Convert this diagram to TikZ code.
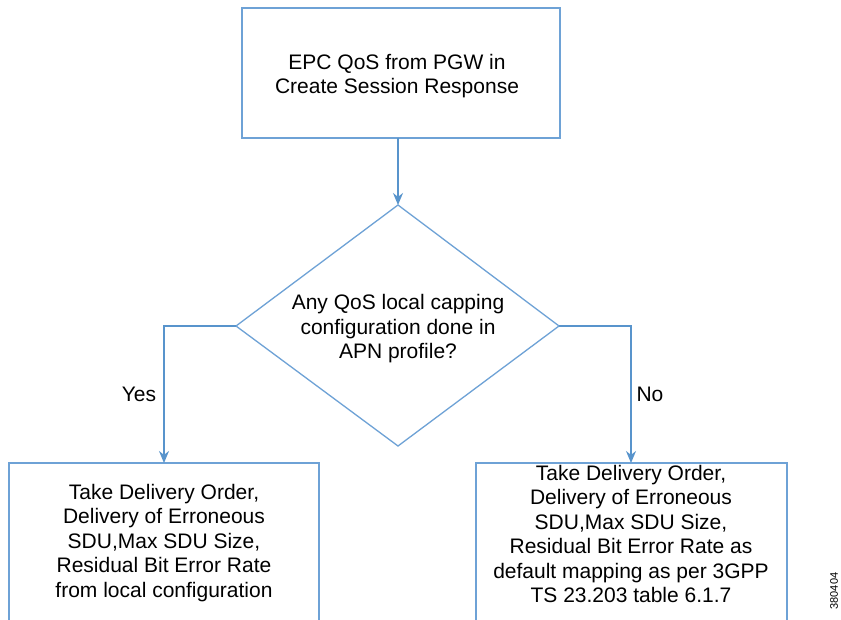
\documentclass[tikz,border=0pt]{standalone}
\usepackage{fontspec}
\setmainfont{Liberation Sans}
\usetikzlibrary{arrows.meta}
\definecolor{flowblue}{RGB}{88,148,204}
\definecolor{boxblue}{RGB}{110,162,214}
\begin{document}
\begin{tikzpicture}[x=1pt,y=-1pt,
  txt/.style={align=center,font=\fontsize{21}{24.5}\selectfont,inner sep=0pt},
  boxline/.style={draw=boxblue,line width=1.3pt},
  conn/.style={draw=flowblue,line width=1.3pt,-{Stealth[length=12pt,width=10pt]}},
  lbl/.style={font=\fontsize{21}{24.5}\selectfont,inner sep=0pt}]
\useasboundingbox (0,0) rectangle (841,620);
\fill[white] (0,0) rectangle (841,620);
\begin{scope}
\clip (0,0) rectangle (841,620);
% top box
\draw[boxline] (242,8) rectangle (560,138);
\node[txt] (top) at (397,76) {EPC QoS from PGW in\\Create Session Response};
\coordinate (topb) at (398,138);
% diamond
\coordinate (dT) at (398,205);
\coordinate (dL) at (236,326);
\coordinate (dR) at (559,326);
\coordinate (dB) at (398,446);
\draw[boxline] (dT) -- (dR) -- (dB) -- (dL) -- cycle;
\node[txt] (dec) at (398,329) {Any QoS local capping\\configuration done in\\APN profile?};
% bottom boxes (cut at the bottom edge)
\draw[boxline] (9,640) -- (9,463) -- (319,463) -- (319,640);
\draw[boxline] (476,640) -- (476,463) -- (787,463) -- (787,640);
\coordinate (lT) at (164,463);
\coordinate (rT) at (631,463);
\node[txt] (lbox) at (164,543) {Take Delivery Order,\\Delivery of Erroneous\\SDU,Max SDU Size,\\Residual Bit Error Rate\\from local configuration};
\node[txt] (rbox) at (631,534) {Take Delivery Order,\\Delivery of Erroneous\\SDU,Max SDU Size,\\Residual Bit Error Rate as\\default mapping as per 3GPP\\TS 23.203 table 6.1.7};
% connectors
\draw[conn] (topb) -- (dT);
\draw[conn] (dL) -| (lT);
\draw[conn] (dR) -| (rT);
\node[lbl] (yes) at (139,394) {Yes};
\node[lbl] (no) at (650,394) {No};
\node[font=\fontsize{11}{13}\selectfont,rotate=90,inner sep=0pt] (num) at (834,591) {380404};
\end{scope}
\end{tikzpicture}
\end{document}
